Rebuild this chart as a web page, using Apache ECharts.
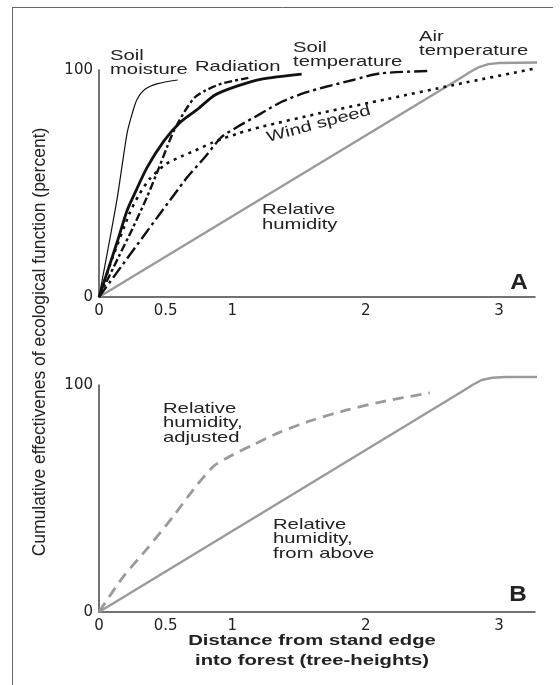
<!DOCTYPE html>
<html>
<head>
<meta charset="utf-8">
<script src="https://cdn.jsdelivr.net/npm/echarts@6/dist/echarts.min.js"></script>
<style>
html,body{margin:0;padding:0;background:#fff;}
#chart{width:560px;height:685px;}
</style>
</head>
<body>
<div id="chart"></div>
<script>
// ---- data (distance in tree-heights, cumulative effectiveness in percent) ----
const xTickLabels = [0, 0.5, 1, 2, 3];
const yTickLabels = [0, 100];

const soilMoisture = [[0,0],[0.135,43],[0.21,72],[0.25,81],[0.285,87],[0.345,91.5],[0.44,94],[0.59,95.6]];
const radiation = [[0,0],[0.15,18],[0.25,30],[0.36,44],[0.45,57],[0.51,66],[0.56,73],[0.645,82],[0.72,88],[0.8,91],[0.92,94],[1.12,96.5]];
const soilTemperature = [[0,0],[0.135,24],[0.21,38],[0.263,45],[0.36,57],[0.49,69],[0.61,77],[0.735,82.5],[0.87,89],[1.04,93],[1.22,96],[1.52,98.2]];
const airTemperature = [[0,0],[0.645,51.5],[0.795,61.7],[0.92,70.5],[1.04,75],[1.22,81],[1.37,86],[1.545,90],[1.695,92.5],[1.905,95.6],[2.11,98.5],[2.48,99.6]];
const windSpeed = [[0,0],[0.1,17],[0.23,37],[0.3,45],[0.38,52],[0.5,58.5],[0.62,62],[0.72,64.5],[0.85,68],[1.04,72],[1.22,75],[1.66,81],[2.16,87.2],[2.66,93.4],[3.29,100.9]];
const relHumidity = [[0,0],[2.7,96],[2.78,99],[2.85,101.3],[2.92,102.6],[3.0,103.1],[3.29,103.3]];

const relHumidityAdjusted = [[0,0],[0.18,15.4],[0.36,27.8],[0.555,42],[0.705,53.7],[0.855,64],[0.98,68.5],[1.155,73.6],[1.36,79.3],[1.605,84.6],[1.86,89],[2.11,92.5],[2.48,96.5]];
const relHumidityFromAbove = [[0,0],[2.72,97],[2.8,100],[2.87,102.2],[2.95,103.2],[3.05,103.5],[3.29,103.5]];

const FONT = 'Liberation Sans, Arial, sans-serif';
const chart = echarts.init(document.getElementById('chart'));

function xAxisFor(gi){
  return {
    type:'value', gridIndex:gi, min:0, max:3.27, interval:0.5,
    axisLine:{show:true, onZero:false, lineStyle:{color:'#444', width:1.5}},
    axisTick:{show:false}, splitLine:{show:false},
    axisLabel:{
      margin:7, fontSize:15, fontFamily:'DejaVu Sans', color:'#222',
      showMaxLabel:false,
      formatter:function(v){ return xTickLabels.indexOf(v) >= 0 ? String(v) : ''; }
    }
  };
}
function yAxisFor(gi){
  return {
    type:'value', gridIndex:gi, min:0, max:100, interval:100,
    axisLine:{show:true, lineStyle:{color:'#444', width:1.5}},
    axisTick:{show:false}, splitLine:{show:false},
    axisLabel:{
      margin:6, fontSize:15, fontFamily:'DejaVu Sans', color:'#222',
      formatter:function(v){ return yTickLabels.indexOf(v) >= 0 ? String(v) : ''; }
    }
  };
}
function line(name, data, gi, color, width, type, smooth){
  return {
    name:name, type:'line', xAxisIndex:gi, yAxisIndex:gi, data:data,
    showSymbol:false, symbol:'none', clip:false, silent:true,
    smooth: smooth === undefined ? 0.25 : smooth,
    lineStyle:{color:color, width:width, type:type, cap:'butt', join:'round'}
  };
}

function txt(text, x, y, opts){
  opts = opts || {};
  return {
    type:'text', x:x, y:y,
    scaleX: opts.scaleX === undefined ? 1.35 : opts.scaleX,
    scaleY: opts.scaleY === undefined ? 1 : opts.scaleY,
    rotation: opts.rotation || 0,
    silent:true,
    style:{
      text:text, fill:'#222',
      font:(opts.weight || 'normal') + ' ' + (opts.size || 15) + 'px ' + FONT,
      textAlign: opts.align || 'left', align: opts.align || 'left',
      textVerticalAlign:'middle', verticalAlign:'middle'
    }
  };
}

const graphics = [
  {type:'line', silent:true, shape:{x1:12,y1:7.5,x2:553,y2:7.5}, style:{stroke:'#666', lineWidth:1}},
  {type:'line', silent:true, shape:{x1:12.5,y1:7,x2:12.5,y2:685}, style:{stroke:'#666', lineWidth:1}},
  // panel A labels
  txt('Soil', 110, 56),
  txt('moisture', 110, 70),
  txt('Radiation', 195, 67),
  txt('Soil', 293, 48),
  txt('temperature', 293, 62),
  txt('Air', 419, 37),
  txt('temperature', 419, 51),
  txt('Wind speed', 267, 138, {rotation: 15 * Math.PI / 180}),
  txt('Relative', 262, 210),
  txt('humidity', 262, 225),
  txt('A', 519, 283, {weight:'bold', size:22, scaleX:1.1, align:'center'}),
  // panel B labels
  txt('Relative', 163, 409),
  txt('humidity,', 163, 423),
  txt('adjusted', 163, 438),
  txt('Relative', 273, 525),
  txt('humidity,', 273, 539),
  txt('from above', 273, 554),
  txt('B', 518, 595, {weight:'bold', size:22, scaleX:1.1, align:'center'}),
  // axis titles
  txt('Distance from stand edge', 312, 641, {weight:'bold', align:'center'}),
  txt('into forest (tree-heights)', 312, 661, {weight:'bold', align:'center'}),
  txt('Cumulative effectivenes of ecological function (percent)', 40, 342,
      {rotation: Math.PI / 2, align:'center', size:17.5, scaleX:1, scaleY:1.05})
];

chart.setOption({
  animation:false,
  backgroundColor:'#fff',
  grid:[
    {left:99, right:25, top:70, height:227},
    {left:99, right:25, top:385, height:227}
  ],
  xAxis:[xAxisFor(0), xAxisFor(1)],
  yAxis:[yAxisFor(0), yAxisFor(1)],
  series:[
    line('Relative humidity', relHumidity, 0, '#9a9a9a', 2.4, 'solid', false),
    line('Wind speed', windSpeed, 0, '#111', 2.6, [3,5]),
    line('Air temperature', airTemperature, 0, '#111', 2.4, [13,4,3,4]),
    line('Radiation', radiation, 0, '#111', 2.4, [8,3,3,3]),
    line('Soil temperature', soilTemperature, 0, '#111', 2.8, 'solid'),
    line('Soil moisture', soilMoisture, 0, '#111', 1.2, 'solid'),
    line('Relative humidity, adjusted', relHumidityAdjusted, 1, '#9a9a9a', 2.8, [11,7]),
    line('Relative humidity, from above', relHumidityFromAbove, 1, '#9a9a9a', 2.4, 'solid', false)
  ],
  graphic: graphics
});
</script>
</body>
</html>
